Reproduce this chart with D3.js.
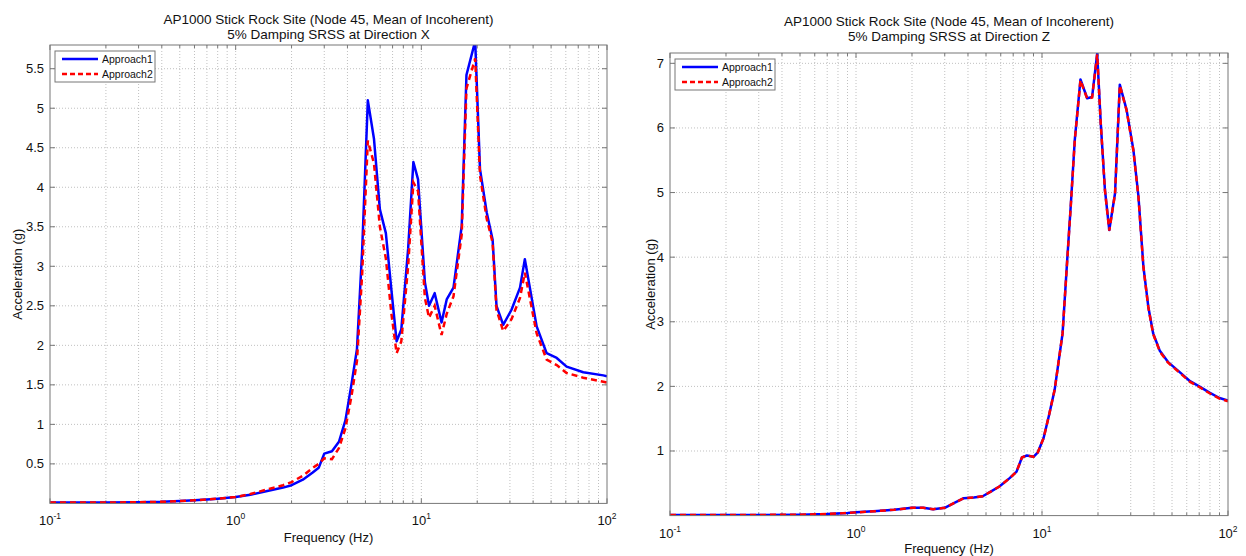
<!DOCTYPE html>
<html>
<head>
<meta charset="utf-8">
<script src="https://cdn.jsdelivr.net/npm/d3@7"></script>
<style>
  body { margin: 0; background: #fff; }
  text { font-family: "Liberation Sans", Arial, sans-serif; fill: #111; }
</style>
</head>
<body>
<svg id="chart" width="1246" height="556"></svg>
<script>
// series names
const seriesNames = ["Approach1", "Approach2"];

// Direction X (left panel)
const freqX = [0.1, 0.2, 0.3, 0.4, 0.5, 0.6, 0.7, 0.8, 1.0, 1.2, 1.5, 1.8, 2.0, 2.3, 2.6, 2.8, 3.0, 3.3, 3.6, 3.9,
  4.2, 4.5, 4.8, 5.15, 5.56, 5.98, 6.44, 6.9, 7.36, 7.8, 8.49, 9.06, 9.6, 10.45, 11.0, 11.8, 12.85, 13.7, 14.9,
  16.5, 17.5, 19.5, 20.7, 22.5, 24.2, 25.4, 27.6, 30.6, 34, 36.1, 41.8, 47.3, 53.6, 60.6, 74.5, 95.5, 100];
const xApproach1 = [0.01, 0.01, 0.015, 0.02, 0.03, 0.04, 0.05, 0.06, 0.08, 0.11, 0.16, 0.2, 0.23, 0.3, 0.39, 0.45, 0.63, 0.66, 0.78, 1.05,
  1.5, 1.95, 3.2, 5.10, 4.61, 3.72, 3.42, 2.7, 2.05, 2.2, 3.22, 4.32, 4.10, 2.80, 2.50, 2.66, 2.29, 2.58, 2.73,
  3.51, 5.42, 5.85, 4.23, 3.68, 3.34, 2.50, 2.26, 2.45, 2.73, 3.09, 2.24, 1.90, 1.84, 1.73, 1.66, 1.62, 1.61];
const xApproach2 = [0.01, 0.01, 0.015, 0.02, 0.03, 0.04, 0.05, 0.06, 0.08, 0.12, 0.18, 0.23, 0.27, 0.35, 0.45, 0.5, 0.57, 0.56, 0.7, 0.95,
  1.35, 1.8, 2.9, 4.59, 4.3, 3.5, 3.1, 2.4, 1.90, 2.05, 3.0, 4.06, 3.95, 2.6, 2.35, 2.5, 2.13, 2.4, 2.62,
  3.4, 5.25, 5.63, 4.15, 3.6, 3.3, 2.45, 2.18, 2.33, 2.6, 2.92, 2.15, 1.82, 1.75, 1.65, 1.59, 1.54, 1.53];
const yTicksX = [0.5, 1, 1.5, 2, 2.5, 3, 3.5, 4, 4.5, 5, 5.5];

// Direction Z (right panel)
const freqZ = [0.1, 0.2, 0.3, 0.5, 0.7, 0.9, 1.0, 1.3, 1.6, 2.0, 2.3, 2.6, 3.0, 3.4, 3.8, 4.3, 4.8, 5.3, 5.9, 6.7,
  7.3, 7.8, 8.3, 9.0, 9.5, 10.2, 10.9, 11.7, 12.9, 13.7, 14.3, 15.0, 16.1, 17.5, 18.6, 19.8, 20.7, 21.8, 23.0,
  24.7, 26.2, 28.5, 31.0, 33.0, 35.1, 37.3, 39.6, 43, 47.5, 55, 62.5, 70, 80, 90, 100];
const zApproach1 = [0.01, 0.01, 0.01, 0.015, 0.025, 0.04, 0.05, 0.07, 0.09, 0.12, 0.12, 0.10, 0.12, 0.2, 0.27, 0.28, 0.3, 0.37, 0.45, 0.58,
  0.68, 0.9, 0.93, 0.91, 0.98, 1.2, 1.55, 1.95, 2.82, 4.01, 4.83, 5.81, 6.75, 6.46, 6.48, 7.15, 6.07, 5.04, 4.42,
  4.99, 6.67, 6.28, 5.66, 4.94, 3.85, 3.23, 2.82, 2.55, 2.38, 2.22, 2.08, 2.0, 1.9, 1.82, 1.78];
const zApproach2 = [0.01, 0.01, 0.01, 0.015, 0.025, 0.04, 0.05, 0.07, 0.09, 0.12, 0.12, 0.10, 0.12, 0.2, 0.27, 0.28, 0.3, 0.37, 0.45, 0.58,
  0.68, 0.9, 0.93, 0.91, 0.98, 1.2, 1.55, 1.95, 2.82, 4.0, 4.82, 5.8, 6.74, 6.45, 6.47, 7.14, 6.06, 5.03, 4.41,
  4.98, 6.66, 6.27, 5.65, 4.93, 3.84, 3.22, 2.81, 2.54, 2.37, 2.21, 2.07, 1.99, 1.89, 1.81, 1.77];
const yTicksZ = [1, 2, 3, 4, 5, 6, 7];

const xTickExps = [-1, 0, 1, 2];

const svg = d3.select("#chart");

function drawPanel(p) {
  const x = d3.scaleLog().domain([0.1, 100]).range([p.left, p.right]);
  const y = d3.scaleLinear().domain([0, p.ymax]).range([p.bottom, p.top]);
  const g = svg.append("g");

  // minor + major log positions
  const logTicks = [];
  for (let e = -1; e < 2; e++) {
    for (let k = 1; k < 10; k++) logTicks.push({v: k * Math.pow(10, e), major: k === 1});
  }
  logTicks.push({v: 100, major: true});

  // grid
  g.selectAll(".vgrid").data(logTicks.filter(d => d.v > 0.1 && d.v < 100)).enter()
    .append("line")
    .attr("x1", d => x(d.v)).attr("x2", d => x(d.v))
    .attr("y1", p.top).attr("y2", p.bottom)
    .style("stroke", "#c0c0c0").style("stroke-width", 1).style("stroke-dasharray", "1,2");
  g.selectAll(".hgrid").data(p.yTicks).enter()
    .append("line")
    .attr("x1", p.left).attr("x2", p.right)
    .attr("y1", d => y(d)).attr("y2", d => y(d))
    .style("stroke", "#c0c0c0").style("stroke-width", 1).style("stroke-dasharray", "1,2");

  // tick marks on all four sides
  logTicks.forEach(d => {
    const len = d.major ? 5 : 3;
    g.append("line").attr("x1", x(d.v)).attr("x2", x(d.v))
      .attr("y1", p.bottom).attr("y2", p.bottom - len)
      .style("stroke", "#777");
    g.append("line").attr("x1", x(d.v)).attr("x2", x(d.v))
      .attr("y1", p.top).attr("y2", p.top + len)
      .style("stroke", "#777");
  });
  p.yTicks.forEach(d => {
    g.append("line").attr("x1", p.left).attr("x2", p.left + 5)
      .attr("y1", y(d)).attr("y2", y(d)).style("stroke", "#777");
    g.append("line").attr("x1", p.right).attr("x2", p.right - 5)
      .attr("y1", y(d)).attr("y2", y(d)).style("stroke", "#777");
  });

  // curves, clipped to the box
  const clipId = "clip" + p.id;
  svg.append("clipPath").attr("id", clipId)
    .append("rect").attr("x", p.left).attr("y", p.top)
    .attr("width", p.right - p.left).attr("height", p.bottom - p.top);

  const line = d3.line().x(d => x(d[0])).y(d => y(d[1]));
  const d1 = p.freq.map((f, i) => [f, p.s1[i]]);
  const d2 = p.freq.map((f, i) => [f, p.s2[i]]);
  g.append("path").attr("d", line(d1)).attr("clip-path", "url(#" + clipId + ")")
    .style("fill", "none").style("stroke", "#0000ff").style("stroke-width", 2.5)
    .style("stroke-linejoin", "round");
  g.append("path").attr("d", line(d2)).attr("clip-path", "url(#" + clipId + ")")
    .style("fill", "none").style("stroke", "#ff0000").style("stroke-width", 2.5)
    .style("stroke-dasharray", "6,4");

  // box
  g.append("rect").attr("x", p.left).attr("y", p.top)
    .attr("width", p.right - p.left).attr("height", p.bottom - p.top)
    .style("fill", "none").style("stroke", "#777").style("stroke-width", 1);

  // y tick labels
  g.selectAll(".ylab").data(p.yTicks).enter()
    .append("text")
    .attr("x", p.left - 6).attr("y", d => y(d) + 4.5)
    .attr("text-anchor", "end").style("font-size", "13px")
    .text(d => d);

  // x tick labels 10^n
  xTickExps.forEach(e => {
    const t = g.append("text").attr("x", x(Math.pow(10, e))).attr("y", p.bottom + 22)
      .attr("text-anchor", "middle").style("font-size", "13px");
    t.append("tspan").text("10");
    t.append("tspan").attr("dy", -6).style("font-size", "8.5px").text(e);
  });

  // titles and labels
  const cx = (p.left + p.right) / 2;
  g.append("text").attr("x", cx).attr("y", p.titleY).attr("text-anchor", "middle")
    .style("font-size", "13.5px").text(p.title1);
  g.append("text").attr("x", cx).attr("y", p.titleY + 15.5).attr("text-anchor", "middle")
    .style("font-size", "13.5px").text(p.title2);
  g.append("text").attr("x", cx).attr("y", p.xlabY).attr("text-anchor", "middle")
    .style("font-size", "13px").text("Frequency (Hz)");
  g.append("text")
    .attr("transform", "translate(" + p.ylabX + "," + ((p.top + p.bottom) / 2) + ") rotate(-90)")
    .attr("text-anchor", "middle").attr("dy", "0.35em").style("font-size", "13px").text("Acceleration (g)");

  // legend
  const lx = p.left + 5, ly = p.top + 6;
  g.append("rect").attr("x", lx).attr("y", ly).attr("width", 100).attr("height", 31)
    .style("fill", "#fff").style("stroke", "#777");
  const styles = [{c: "#0000ff", dash: null}, {c: "#ff0000", dash: "5,3"}];
  seriesNames.forEach((name, i) => {
    const yy = ly + 8 + i * 15;
    g.append("line").attr("x1", lx + 7).attr("x2", lx + 43).attr("y1", yy).attr("y2", yy)
      .style("stroke", styles[i].c).style("stroke-width", 2.5)
      .style("stroke-dasharray", styles[i].dash);
    g.append("text").attr("x", lx + 47).attr("y", yy + 4).style("font-size", "10.5px").text(name);
  });
}

drawPanel({id: "X", left: 50, right: 607, top: 45, bottom: 503.4, ymax: 5.8,
  freq: freqX, s1: xApproach1, s2: xApproach2, yTicks: yTicksX,
  titleY: 23.5, xlabY: 541.5, ylabX: 17,
  title1: "AP1000 Stick Rock Site (Node 45, Mean of Incoherent)",
  title2: "5% Damping SRSS at Direction X"});

drawPanel({id: "Z", left: 670, right: 1228, top: 53, bottom: 515.6, ymax: 7.16,
  freq: freqZ, s1: zApproach1, s2: zApproach2, yTicks: yTicksZ,
  titleY: 25.5, xlabY: 552.5, ylabX: 650,
  title1: "AP1000 Stick Rock Site (Node 45, Mean of Incoherent)",
  title2: "5% Damping SRSS at Direction Z"});
</script>
</body>
</html>
